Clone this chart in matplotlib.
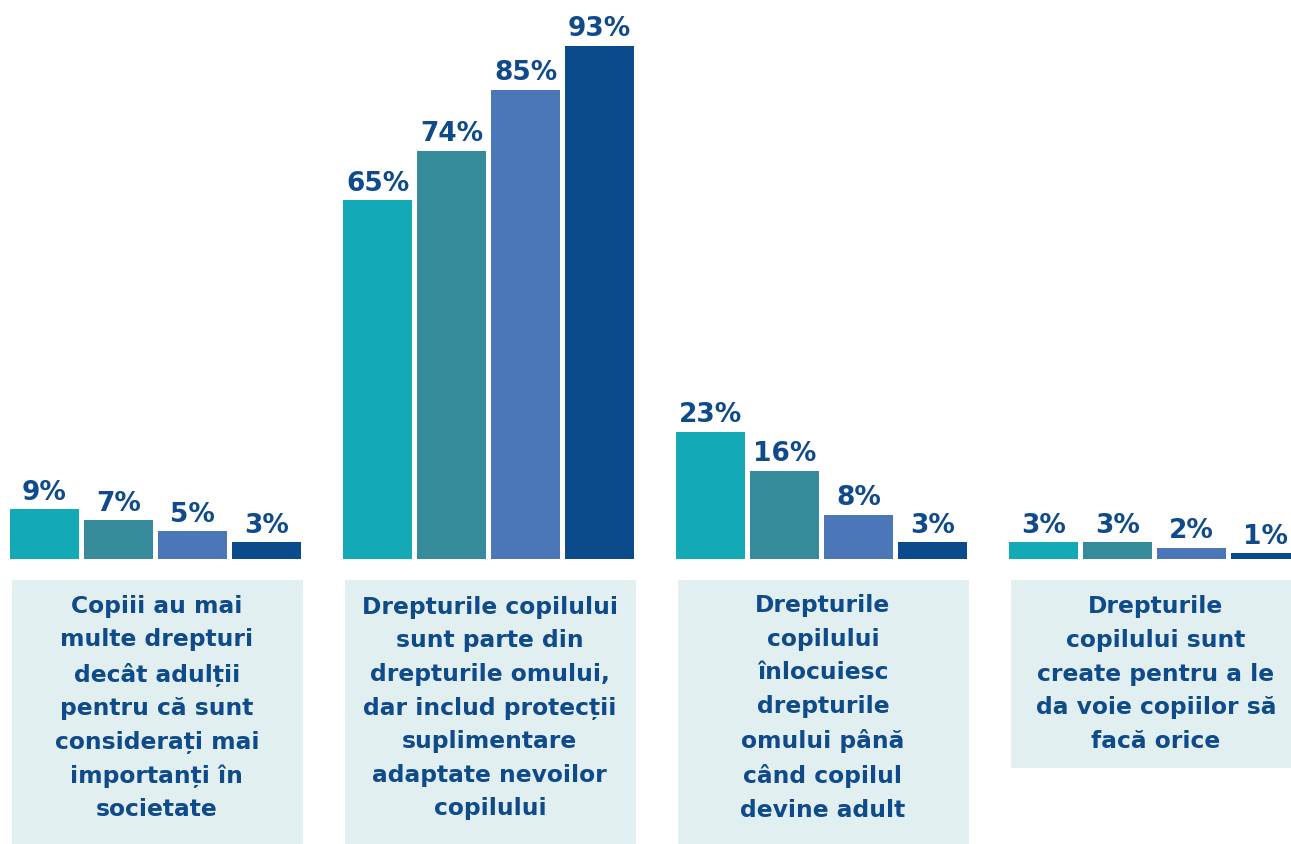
import matplotlib.pyplot as plt
from matplotlib.patches import Rectangle

plt.rcParams['font.family'] = ['DejaVu Sans']

# Data
statements = [
    "Copiii au mai\nmulte drepturi\ndecât adulții\npentru că sunt\nconsiderați mai\nimportanți în\nsocietate",
    "Drepturile copilului\nsunt parte din\ndrepturile omului,\ndar includ protecții\nsuplimentare\nadaptate nevoilor\ncopilului",
    "Drepturile\ncopilului\nînlocuiesc\ndrepturile\nomului până\ncând copilul\ndevine adult",
    "Drepturile\ncopilului sunt\ncreate pentru a le\nda voie copiilor să\nfacă orice",
]
series_1 = [9, 65, 23, 3]
series_2 = [7, 74, 16, 3]
series_3 = [5, 85, 8, 2]
series_4 = [3, 93, 3, 1]
series = [series_1, series_2, series_3, series_4]

colors = ["#14a9b6", "#368b9b", "#4b77b9", "#0b4a8b"]
text_color = "#0f4a8a"
box_color = "#e1eff1"

W, H = 1291, 844
fig = plt.figure(figsize=(W / 100, H / 100), dpi=100)

# bar axes: baseline at 559px from the top
ax = fig.add_axes([0, (H - 559) / H, 1, 559 / H])
xlim = (-155.5 / 333, (W - 155.5) / 333)
ax.set_xlim(*xlim)
ax.set_ylim(0, 101.3)
ax.axis("off")

step = 74 / 333
width = 69 / 333
groups = range(len(statements))
for j, vals in enumerate(series):
    xs = [g + (j - 1.5) * step for g in groups]
    bars = ax.bar(xs, vals, width=width, color=colors[j], clip_on=False)
    for b, v in zip(bars, vals):
        ax.annotate(f"{v}%", (b.get_x() + b.get_width() / 2, v),
                    xytext=(0, 7), textcoords="offset points",
                    ha="center", va="baseline", fontsize=19, fontweight="bold",
                    color=text_color, annotation_clip=False)

# text boxes below the bars
tax = fig.add_axes([0, 0, 1, (H - 559) / H])
tax.set_xlim(*xlim)
tax.set_ylim(H - 559, 0)
tax.axis("off")
box_bottoms = [844, 844, 844, 768]
for g, (txt, bot) in enumerate(zip(statements, box_bottoms)):
    top = 21
    bottom = bot - 559
    tax.add_patch(Rectangle((g - 0.432, top), 0.875, bottom - top,
                            facecolor=box_color, edgecolor="none"))
    ymid = 149 if g < 3 else (top + bottom) / 2
    tax.text(g + 0.004, ymid, txt, ha="center", va="center", fontsize=16.8,
             fontweight="bold", color=text_color, linespacing=1.59)

fig.savefig("out.png", dpi=100, facecolor="white")
